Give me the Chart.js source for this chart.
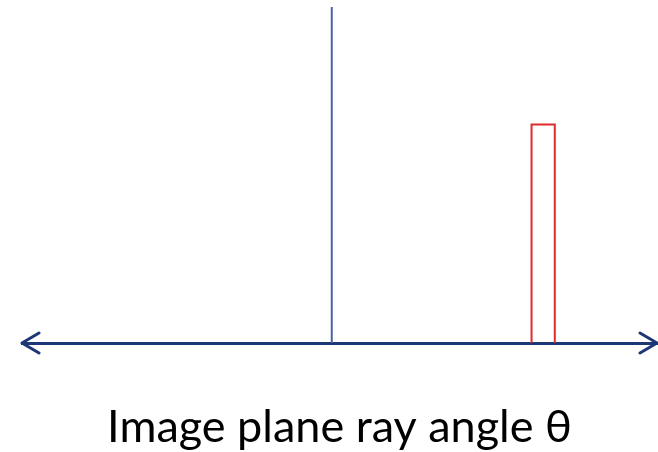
<!DOCTYPE html>
<html>
<head>
<meta charset="utf-8">
<script src="https://cdn.jsdelivr.net/npm/chart.js@4"></script>
<style>
  html, body { margin: 0; padding: 0; background: #ffffff; }
  #wrap { width: 658px; height: 452px; }
</style>
</head>
<body>
<div id="wrap"><canvas id="c" width="658" height="452"></canvas></div>
<script>
// ---- data ----
const axisTitle = "Image plane ray angle θ";
const xRange = [-100, 105];          // angle axis extent (arbitrary units)
const yRange = [0, 1];               // intensity extent
const deltaX = [0, 0];               // on-axis ray (impulse)
const deltaY = [0, 1];
const pixelX = [64.5, 64.5, 72, 72]; // off-axis pixel box
const pixelY = [0, 0.65, 0.65, 0];

const toPoints = (xs, ys) => xs.map((x, i) => ({ x: x, y: ys[i] }));

const arrowPlugin = {
  id: 'axisArrows',
  afterDraw(chart) {
    const { ctx, chartArea } = chart;
    const y = chartArea.bottom;
    const len = 17, half = 10;
    ctx.save();
    ctx.strokeStyle = '#1d3675';
    ctx.lineWidth = 3;
    ctx.lineCap = 'round';
    ctx.lineJoin = 'round';
    ctx.beginPath();
    ctx.moveTo(chartArea.left + len, y - half);
    ctx.lineTo(chartArea.left, y);
    ctx.lineTo(chartArea.left + len, y + half);
    ctx.moveTo(chartArea.right - len, y - half);
    ctx.lineTo(chartArea.right, y);
    ctx.lineTo(chartArea.right - len, y + half);
    ctx.stroke();
    ctx.restore();
  }
};

new Chart(document.getElementById('c'), {
  type: 'scatter',
  data: {
    datasets: [
      {
        data: toPoints(deltaX, deltaY),
        showLine: true,
        borderColor: '#4863a0',
        borderWidth: 2,
        pointRadius: 0,
        clip: false
      },
      {
        data: toPoints(pixelX, pixelY),
        showLine: true,
        borderColor: '#e02a2a',
        borderWidth: 2,
        pointRadius: 0,
        clip: false
      }
    ]
  },
  options: {
    responsive: false,
    animation: false,
    events: [],
    layout: { padding: { top: 7, left: 22, right: 1, bottom: 0 } },
    plugins: { legend: { display: false }, tooltip: { enabled: false } },
    scales: {
      x: {
        type: 'linear',
        min: xRange[0],
        max: xRange[1],
        grid: { display: false, drawTicks: false },
        ticks: { display: false },
        border: { display: true, color: '#1d3675', width: 3 },
        title: {
          display: true,
          text: axisTitle,
          color: '#000000',
          font: { family: 'Lato', size: 45, lineHeight: 1.1 },
          padding: { top: 59.5, bottom: 0 }
        }
      },
      y: {
        display: false,
        min: yRange[0],
        max: yRange[1]
      }
    }
  },
  plugins: [arrowPlugin]
});
</script>
</body>
</html>
